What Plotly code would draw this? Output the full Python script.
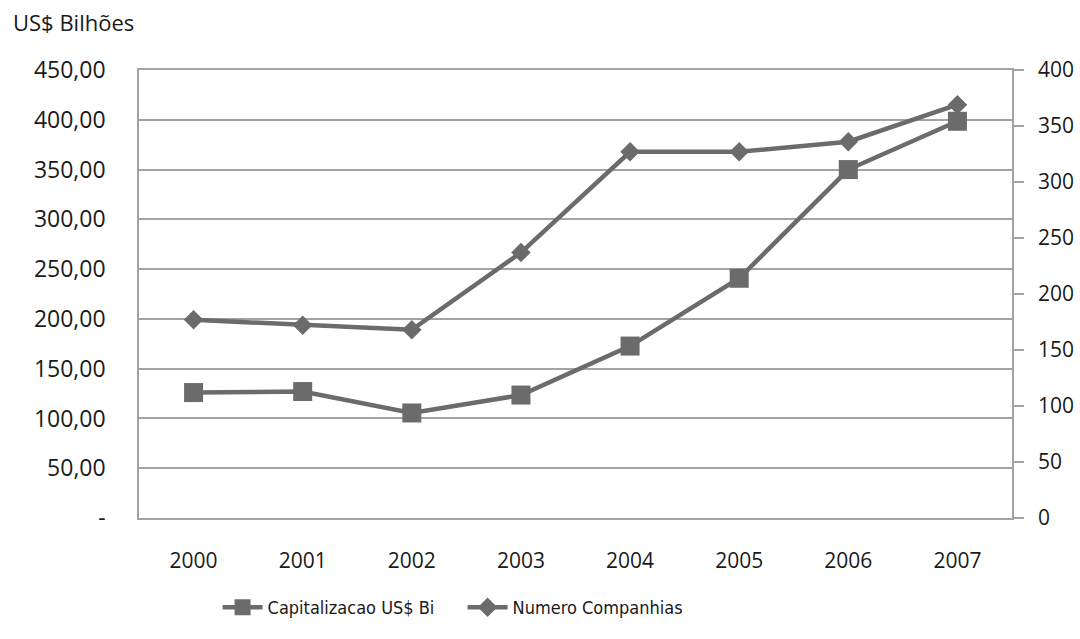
import plotly.graph_objects as go

# Market data, 2000-2007
anos = ["2000", "2001", "2002", "2003", "2004", "2005", "2006", "2007"]
capitalizacao = [126, 127, 105.5, 123.5, 172.7, 240.8, 350, 398.5]
companhias = [177, 172, 168, 237, 327, 327, 336, 369]

# Axis ticks
esq_vals = [0, 50, 100, 150, 200, 250, 300, 350, 400, 450]
esq_text = ["-", "50,00", "100,00", "150,00", "200,00", "250,00",
            "300,00", "350,00", "400,00", "450,00"]
dir_vals = [0, 50, 100, 150, 200, 250, 300, 350, 400]

COR = "#6b6b6b"
GRADE = "#a3a3a3"
FONTE = "Open Sans"

fig = go.Figure()

fig.add_trace(go.Scatter(
    x=anos, y=capitalizacao, name="Capitalizacao US$ Bi",
    mode="lines+markers",
    line=dict(color=COR, width=4.5),
    marker=dict(symbol="square", size=19, color=COR),
    yaxis="y",
))

fig.add_trace(go.Scatter(
    x=anos, y=companhias, name="Numero Companhias",
    mode="lines+markers",
    line=dict(color=COR, width=4.5),
    marker=dict(symbol="diamond", size=15, color=COR),
    yaxis="y2",
))

fig.update_layout(
    width=1080, height=639,
    margin=dict(l=139, r=68, t=70, b=121, autoexpand=False),
    paper_bgcolor="white", plot_bgcolor="white",
    font=dict(family=FONTE, size=21, color="#1a1a1a"),
    showlegend=True,
    legend=dict(
        orientation="h", x=0.09, xanchor="left", y=-0.2, yanchor="middle",
        font=dict(family="DejaVu Sans Condensed, DejaVu Sans", size=18,
                  color="#1a1a1a"),
        itemwidth=40, entrywidth=190, entrywidthmode="pixels",
        tracegroupgap=0,
    ),
    xaxis=dict(
        type="category", range=[-0.5, 7.5], automargin=False,
        showgrid=False, showline=True, linecolor=GRADE, linewidth=1.5,
        mirror=True, ticks="", ticklabelstandoff=23,
        tickfont=dict(family=FONTE, size=21),
    ),
    yaxis=dict(
        range=[0, 450], tickvals=esq_vals, ticktext=esq_text, automargin=False,
        showgrid=True, gridcolor=GRADE, gridwidth=1.5,
        showline=True, linecolor=GRADE, linewidth=1.5,
        zeroline=False, ticks="", ticklabelstandoff=27,
        tickfont=dict(family=FONTE, size=23),
    ),
    yaxis2=dict(
        range=[0, 400], tickvals=dir_vals, automargin=False,
        overlaying="y", side="right",
        showgrid=False, showline=True, linecolor=GRADE, linewidth=1.5,
        zeroline=False, ticks="outside", ticklen=10, tickcolor=GRADE,
        tickwidth=1.5, ticklabelstandoff=10,
        tickfont=dict(family=FONTE, size=21),
    ),
    annotations=[dict(
        text="US$ Bilhões", xref="paper", yref="paper",
        x=-128 / 873, y=(518 - 22) / 448, xanchor="left", yanchor="middle",
        showarrow=False, font=dict(family=FONTE, size=22, color="#1a1a1a"),
    )],
)

fig.write_html("out.html")
